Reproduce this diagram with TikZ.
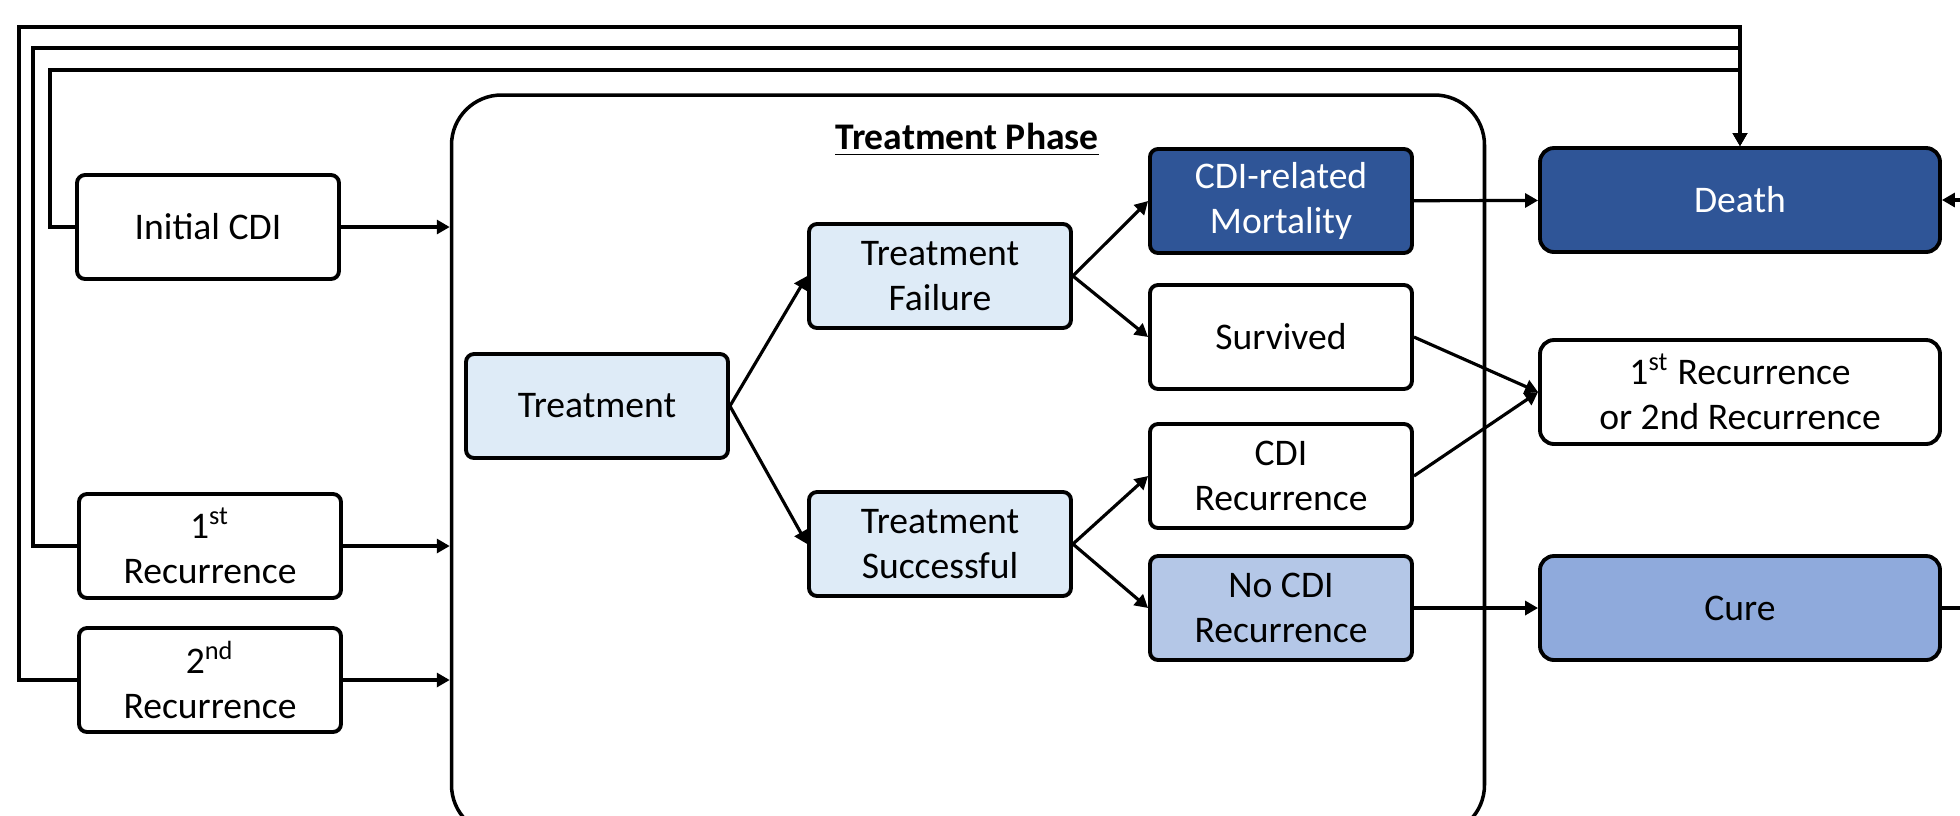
\documentclass[tikz,border=0pt]{standalone}
\usepackage{fontspec}
\setmainfont{Carlito}
\usepackage{xcolor}
\usetikzlibrary{arrows.meta}

\definecolor{darkblue}{HTML}{2F5597}
\definecolor{midblue}{HTML}{B4C7E7}
\definecolor{cureblue}{HTML}{8FAADC}
\definecolor{paleblue}{HTML}{DEEBF7}

\begin{document}
\begin{tikzpicture}[x=0.1mm,y=-0.1mm,
	every node/.style={font=\fontsize{10.7}{12.9}\selectfont},
	statebox/.style={rectangle,draw,line width=1.1pt,rounded corners=0.8mm,minimum width=26.2mm,minimum height=10.4mm,align=center,inner sep=1pt},
	outbox/.style={statebox,minimum width=40mm,rounded corners=1.4mm},
	flow/.style={line width=0.9pt,-{Triangle[length=1.3mm,width=1.4mm]}},
	link/.style={line width=0.9pt}]
	\useasboundingbox (0,0) rectangle (1960,815);
	% treatment phase frame (runs past the lower edge)
	\node[draw,line width=1pt,rounded corners=5mm,minimum width=103.3mm,minimum height=74mm] (Phase) at (968,465) {};
	\node (PhaseTitle) at (967,140) {\bfseries\underline{Treatment Phase}};
	% entry states
	\node[statebox] (InitialCDI) at (208,227) {Initial CDI};
	\node[statebox] (FirstRec) at (210,546) {1\textsuperscript{st}\\Recurrence};
	\node[statebox] (SecondRec) at (210,680) {2\textsuperscript{nd}\\Recurrence};
	% tree
	\node[statebox,fill=paleblue] (Treatment) at (597,406) {Treatment};
	\node[statebox,fill=paleblue] (TreatFail) at (940,276) {Treatment\\Failure};
	\node[statebox,fill=paleblue] (TreatSucc) at (940,544) {Treatment\\Successful};
	\node[statebox,fill=darkblue,text=white] (Mortality) at (1281,201) {CDI-related\\Mortality};
	\node[statebox] (Survived) at (1281,337) {Survived};
	\node[statebox] (CDIRec) at (1281,476) {CDI\\Recurrence};
	\node[statebox,fill=midblue] (NoCDIRec) at (1281,608) {No CDI\\Recurrence};
	% outcomes
	\node[outbox,fill=darkblue,text=white] (Death) at (1740,200) {Death};
	\node[outbox] (RecurOut) at (1740,392) {1\textsuperscript{st} Recurrence\\or 2nd Recurrence};
	\node[outbox,fill=cureblue] (Cure) at (1740,608) {Cure};
	\coordinate (CureOut) at (1960,608);
	\coordinate (DeathBack) at (1960,200);
	% draw the lines
	\draw[flow] (InitialCDI) -- (InitialCDI -| Phase.west);
	\draw[flow] (FirstRec) -- (FirstRec -| Phase.west);
	\draw[flow] (SecondRec) -- (SecondRec -| Phase.west);
	\draw[flow] (Treatment.east) -- (TreatFail.west);
	\draw[flow] (Treatment.east) -- (TreatSucc.west);
	\draw[flow] (TreatFail.east) -- (Mortality.west);
	\draw[flow] (TreatFail.east) -- (Survived.west);
	\draw[flow] (TreatSucc.east) -- (CDIRec.west);
	\draw[flow] (TreatSucc.east) -- (NoCDIRec.west);
	\draw[flow] (Mortality) -- (Death);
	\draw[flow] (Survived.east) -- (RecurOut.west);
	\draw[flow] (CDIRec.east) -- (RecurOut.west);
	\draw[flow] (NoCDIRec) -- (Cure);
	\draw[link] (Cure) -- (CureOut);
	\draw[flow] (DeathBack) -- (Death);
	% background mortality
	\draw[flow] (SecondRec.west) -| (19,27) -| (Death.north);
	\draw[flow] (FirstRec.west) -| (33,48) -| (Death.north);
	\draw[flow] (InitialCDI.west) -| (50,70) -| (Death.north);
\end{tikzpicture}
\end{document}
